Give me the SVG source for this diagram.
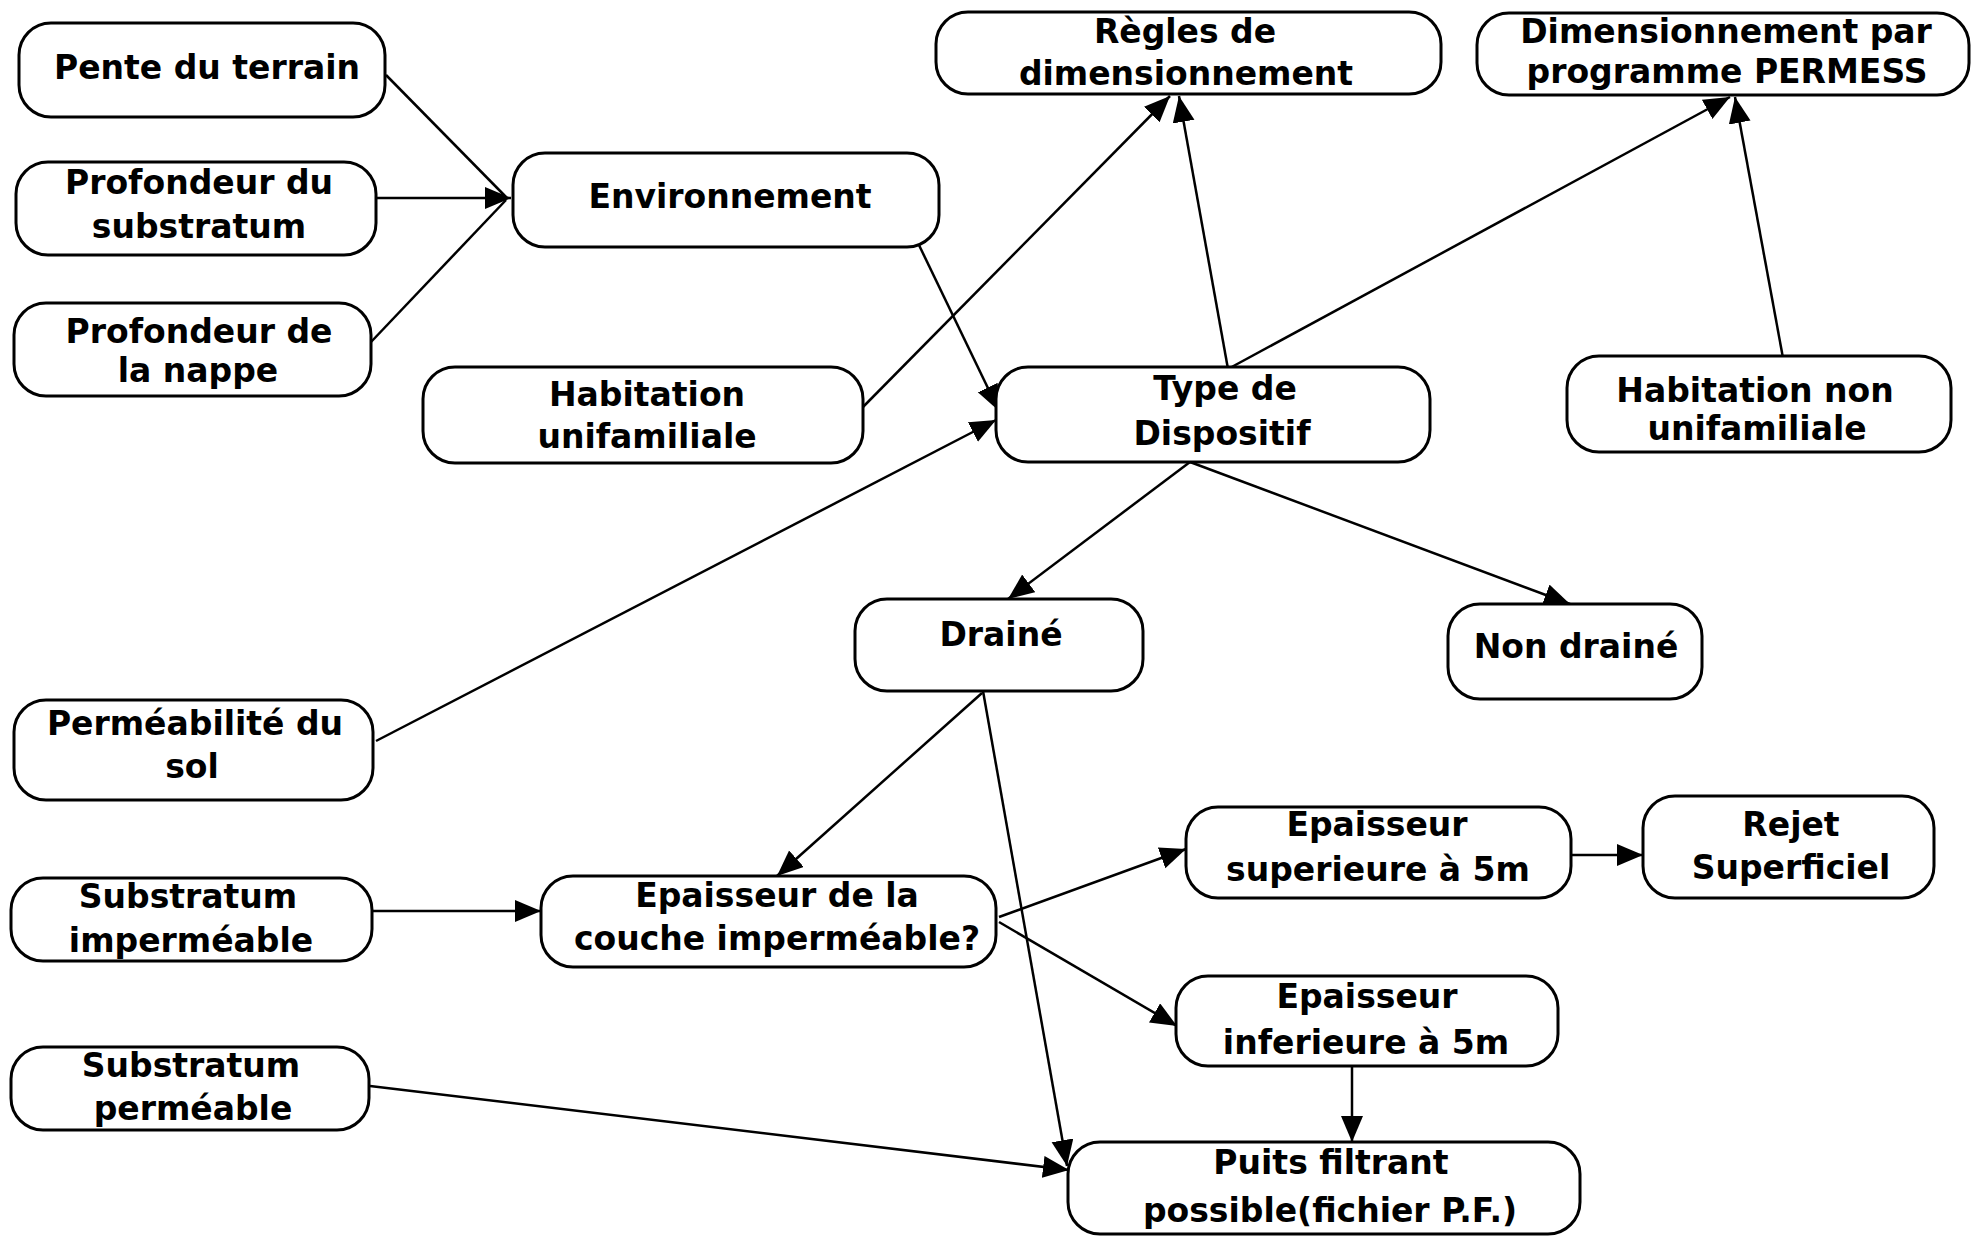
<svg xmlns="http://www.w3.org/2000/svg" width="1973" height="1236" viewBox="0 0 1973 1236">
<defs>
<marker id="ah" markerUnits="userSpaceOnUse" markerWidth="28" markerHeight="24" refX="26" refY="11" orient="auto">
<path d="M0,0 L26,11 L0,22 z" fill="#000"/>
</marker>
<style>
.box{fill:#fff;stroke:#000;stroke-width:3}
.t{font-family:"DejaVu Sans",sans-serif;font-weight:bold;font-size:33px;text-anchor:middle;fill:#000}
.c{stroke:#000;stroke-width:2.5;fill:none}
.a{marker-end:url(#ah)}
</style>
</defs>
<rect width="1973" height="1236" fill="#fff"/>
<g id="connectors">
<line class="c" x1="386" y1="75" x2="506" y2="197"/>
<line class="c" x1="371" y1="342" x2="506" y2="200"/>
<line class="c a" x1="376" y1="198" x2="511" y2="198"/>
<line class="c a" x1="918" y1="243" x2="999" y2="411"/>
<line class="c a" x1="376" y1="741" x2="996" y2="420"/>
<line class="c a" x1="862" y1="408" x2="1170" y2="96"/>
<line class="c a" x1="1228" y1="369" x2="1179" y2="96"/>
<line class="c a" x1="1228" y1="369" x2="1730" y2="97"/>
<line class="c a" x1="1783" y1="358" x2="1735" y2="97"/>
<line class="c a" x1="1190" y1="462" x2="1008" y2="599"/>
<line class="c a" x1="1190" y1="462" x2="1570" y2="604"/>
<line class="c a" x1="982" y1="693" x2="777" y2="876"/>
<line class="c a" x1="983" y1="691" x2="1067" y2="1166"/>
<line class="c a" x1="373" y1="911" x2="541" y2="911"/>
<line class="c a" x1="370" y1="1086" x2="1069" y2="1170"/>
<line class="c a" x1="999" y1="917" x2="1186" y2="849"/>
<line class="c a" x1="999" y1="922" x2="1177" y2="1026"/>
<line class="c a" x1="1571" y1="855" x2="1643" y2="855"/>
<line class="c a" x1="1352" y1="1062" x2="1352" y2="1142"/>
</g>
<g id="pente"><rect class="box" x="19" y="23" width="366" height="94" rx="32"/><text class="t" x="207" y="79">Pente du terrain</text></g>
<g id="prof_substratum"><rect class="box" x="16" y="162" width="360" height="93" rx="32"/><text class="t" x="199" y="194">Profondeur du</text><text class="t" x="199" y="238">substratum</text></g>
<g id="prof_nappe"><rect class="box" x="14" y="303" width="357" height="93" rx="32"/><text class="t" x="199" y="343">Profondeur de</text><text class="t" x="198" y="382">la nappe</text></g>
<g id="environnement"><rect class="box" x="513" y="153" width="426" height="94" rx="32"/><text class="t" x="730" y="208">Environnement</text></g>
<g id="habitation_unif"><rect class="box" x="423" y="367" width="440" height="96" rx="32"/><text class="t" x="647" y="406">Habitation</text><text class="t" x="647" y="448">unifamiliale</text></g>
<g id="regles"><rect class="box" x="936" y="12" width="505" height="82" rx="32"/><text class="t" x="1185" y="43">Règles de</text><text class="t" x="1186" y="85">dimensionnement</text></g>
<g id="permess"><rect class="box" x="1477" y="13" width="492" height="82" rx="32"/><text class="t" x="1726" y="43">Dimensionnement par</text><text class="t" x="1727" y="83">programme PERMESS</text></g>
<g id="type_dispositif"><rect class="box" x="996" y="367" width="434" height="95" rx="32"/><text class="t" x="1225" y="400">Type de</text><text class="t" x="1222" y="445">Dispositif</text></g>
<g id="habitation_non_unif"><rect class="box" x="1567" y="356" width="384" height="96" rx="32"/><text class="t" x="1755" y="402">Habitation non</text><text class="t" x="1757" y="440">unifamiliale</text></g>
<g id="draine"><rect class="box" x="855" y="599" width="288" height="92" rx="32"/><text class="t" x="1001" y="646">Drainé</text></g>
<g id="non_draine"><rect class="box" x="1448" y="604" width="254" height="95" rx="32"/><text class="t" x="1576" y="658">Non drainé</text></g>
<g id="permeabilite"><rect class="box" x="14" y="700" width="359" height="100" rx="32"/><text class="t" x="195" y="735">Perméabilité du</text><text class="t" x="192" y="778">sol</text></g>
<g id="substratum_impermeable"><rect class="box" x="11" y="878" width="361" height="83" rx="32"/><text class="t" x="188" y="908">Substratum</text><text class="t" x="191" y="952">imperméable</text></g>
<g id="epaisseur_couche"><rect class="box" x="541" y="876" width="455" height="91" rx="32"/><text class="t" x="777" y="907">Epaisseur de la</text><text class="t" x="777" y="950">couche imperméable?</text></g>
<g id="substratum_permeable"><rect class="box" x="11" y="1047" width="358" height="83" rx="32"/><text class="t" x="191" y="1077">Substratum</text><text class="t" x="193" y="1120">perméable</text></g>
<g id="epaisseur_sup"><rect class="box" x="1186" y="807" width="385" height="91" rx="32"/><text class="t" x="1377" y="836">Epaisseur</text><text class="t" x="1378" y="881">superieure à 5m</text></g>
<g id="rejet"><rect class="box" x="1643" y="796" width="291" height="102" rx="32"/><text class="t" x="1791" y="836">Rejet</text><text class="t" x="1791" y="879">Superficiel</text></g>
<g id="epaisseur_inf"><rect class="box" x="1176" y="976" width="382" height="90" rx="32"/><text class="t" x="1367" y="1008">Epaisseur</text><text class="t" x="1366" y="1054">inferieure à 5m</text></g>
<g id="puits"><rect class="box" x="1068" y="1142" width="512" height="92" rx="32"/><text class="t" x="1331" y="1174">Puits filtrant</text><text class="t" x="1330" y="1222">possible(fichier P.F.)</text></g>
</svg>
